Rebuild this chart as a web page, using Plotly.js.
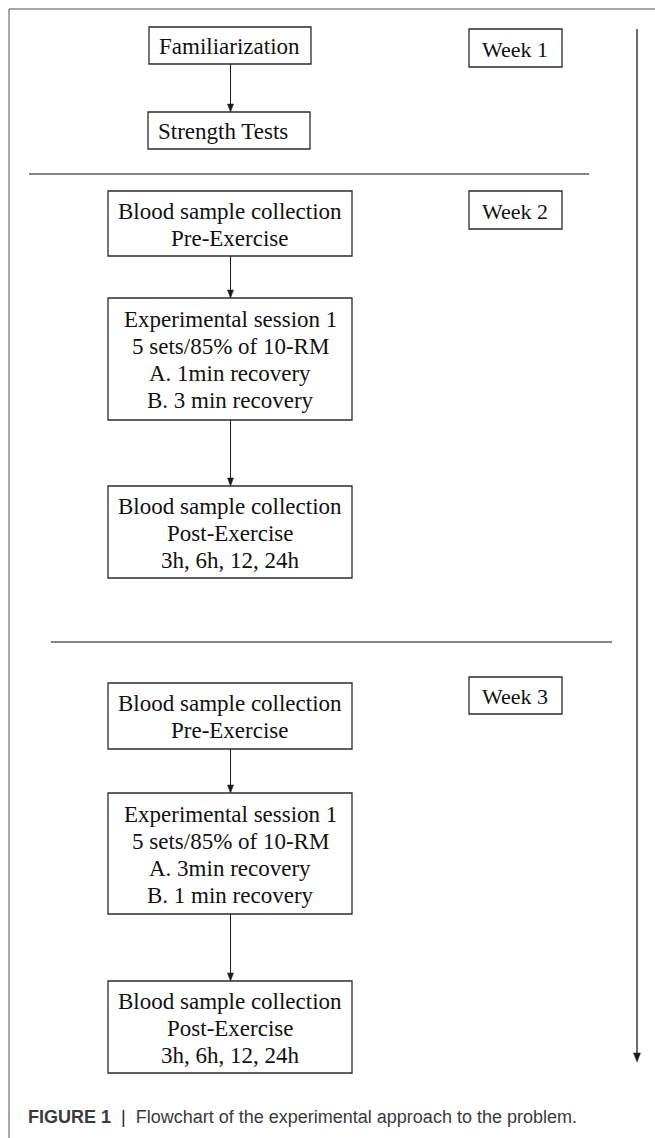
<!DOCTYPE html>
<html>
<head>
<meta charset="utf-8">
<script src="https://cdn.plot.ly/plotly-3.0.1.min.js"></script>
<style>html,body{margin:0;padding:0;background:#fff;}#chart{width:655px;height:1138px;}</style>
</head>
<body>
<div id="chart"></div>
<script>
// ---- Data (texts) ----
const weekLabels = ['Week 1', 'Week 2', 'Week 3'];
const week1Steps = [
  ['Familiarization'],
  ['Strength Tests']
];
const week2Steps = [
  ['Blood sample collection', 'Pre-Exercise'],
  ['Experimental session 1', '5 sets/85% of 10-RM', 'A. 1min recovery', 'B. 3 min recovery'],
  ['Blood sample collection', 'Post-Exercise', '3h, 6h, 12, 24h']
];
const week3Steps = [
  ['Blood sample collection', 'Pre-Exercise'],
  ['Experimental session 1', '5 sets/85% of 10-RM', 'A. 3min recovery', 'B. 1 min recovery'],
  ['Blood sample collection', 'Post-Exercise', '3h, 6h, 12, 24h']
];
const captionLabel = 'FIGURE 1';
const captionText = 'Flowchart of the experimental approach to the problem.';

// ---- Layout geometry (positions / styles) ----
const W = 655, H = 1138;
const geo = {
  stepBoxes: [
    [{x0:149,x1:311,y0:27,y1:64,align:'left'}, {x0:148,x1:310,y0:112,y1:149,align:'left'}],
    [{x0:108,x1:352,y0:191,y1:256}, {x0:108,x1:352,y0:298,y1:420}, {x0:108,x1:352,y0:486,y1:578}],
    [{x0:108,x1:352,y0:683,y1:749}, {x0:108,x1:352,y0:793,y1:914}, {x0:108,x1:352,y0:981,y1:1073}]
  ],
  weekBoxes: [
    {x0:469,x1:562,y0:29,y1:67},
    {x0:469,x1:562,y0:191,y1:229},
    {x0:469,x1:562,y0:677,y1:714}
  ],
  separators: [{x0:29,x1:589,y:174},{x0:51,x1:612,y:642}],
  timeline: {x:637, y0:29, y1:1062},
  frame: {x:9, y:9},
  lineStep: 27,
  serif: 'Liberation Serif, Times New Roman, serif',
  sans: 'Liberation Sans, Arial, sans-serif'
};

const shapes = [];
const annotations = [];

function line(x0,y0,x1,y1,color,width){
  shapes.push({type:'line',xref:'x',yref:'y',x0,y0,x1,y1,line:{color,width}});
}
function arrowDown(x,y0,y1,color){
  const hl = 8, hw = 3;
  line(x,y0,x,y1-hl+1,color,1);
  shapes.push({type:'path',xref:'x',yref:'y',
    path:`M${x-hw},${y1-hl} L${x+hw},${y1-hl} L${x},${y1} Z`,
    fillcolor:color,line:{color,width:0.5}});
}
function boxWithText(b, lines, fontSize){
  shapes.push({type:'rect',xref:'x',yref:'y',x0:b.x0,x1:b.x1,y0:b.y0,y1:b.y1,
    line:{color:'#2b2b2b',width:1.3},fillcolor:'rgba(0,0,0,0)'});
  const cy = (b.y0+b.y1)/2 + 1;
  const n = lines.length;
  lines.forEach((t,i)=>{
    const y = cy + (i-(n-1)/2)*geo.lineStep;
    const left = b.align === 'left';
    annotations.push({xref:'x',yref:'y',
      x: left ? b.x0+8 : (b.x0+b.x1)/2, y,
      xanchor: left ? 'left' : 'center', yanchor:'middle',
      text:t, showarrow:false,
      font:{family:geo.serif,size:fontSize,color:'#111'}});
  });
}

// frame (top and left borders)
line(geo.frame.x, geo.frame.y, W+2, geo.frame.y, '#8a8a8a', 1.5);
line(geo.frame.x, geo.frame.y, geo.frame.x, H+2, '#8a8a8a', 1.5);

// step boxes and connecting arrows
[week1Steps, week2Steps, week3Steps].forEach((steps, w)=>{
  const boxes = geo.stepBoxes[w];
  steps.forEach((lines, i)=>{
    boxWithText(boxes[i], lines, 23);
    if (i < steps.length-1) {
      const a = boxes[i], b = boxes[i+1];
      const x = Math.round(((a.x0+a.x1)/2 + (b.x0+b.x1)/2)/2) + 0.5;
      arrowDown(x, a.y1, b.y0, '#1a1a1a');
    }
  });
});

// week labels
weekLabels.forEach((t,i)=>{
  const b = geo.weekBoxes[i];
  shapes.push({type:'rect',xref:'x',yref:'y',x0:b.x0,x1:b.x1,y0:b.y0,y1:b.y1,
    line:{color:'#2b2b2b',width:1.3},fillcolor:'rgba(0,0,0,0)'});
  annotations.push({xref:'x',yref:'y',x:b.x0+11,y:(b.y0+b.y1)/2+1,xanchor:'left',yanchor:'middle',
    text:t,showarrow:false,font:{family:geo.serif,size:22,color:'#111'}});
});

// separators
geo.separators.forEach(s=> line(s.x0, s.y, s.x1, s.y, '#5a5a5a', 1.5));

// timeline
const tl = geo.timeline;
line(tl.x, tl.y0, tl.x, tl.y1-7, '#6e6e6e', 2);
shapes.push({type:'path',xref:'x',yref:'y',
  path:`M${tl.x-3.5},${tl.y1-9} L${tl.x+3.5},${tl.y1-9} L${tl.x},${tl.y1} Z`,
  fillcolor:'#1a1a1a',line:{color:'#1a1a1a',width:0.5}});

// caption
annotations.push({xref:'x',yref:'y',x:26,y:1117,xanchor:'left',yanchor:'middle',showarrow:false,
  text:`<b>${captionLabel}</b>  <span style="color:#222">|</span>  ${captionText}`,
  font:{family:geo.sans,size:18,color:'#3a3a3a'}});

const layout = {
  width: W, height: H,
  margin:{l:0,r:0,t:0,b:0},
  paper_bgcolor:'#ffffff', plot_bgcolor:'#ffffff',
  xaxis:{range:[0,W],visible:false,fixedrange:true},
  yaxis:{range:[H,0],visible:false,fixedrange:true},
  showlegend:false,
  shapes, annotations
};
Plotly.newPlot('chart', [{x:[],y:[],type:'scatter',mode:'markers',hoverinfo:'skip'}], layout, {displayModeBar:false, staticPlot:true});
</script>
</body>
</html>
